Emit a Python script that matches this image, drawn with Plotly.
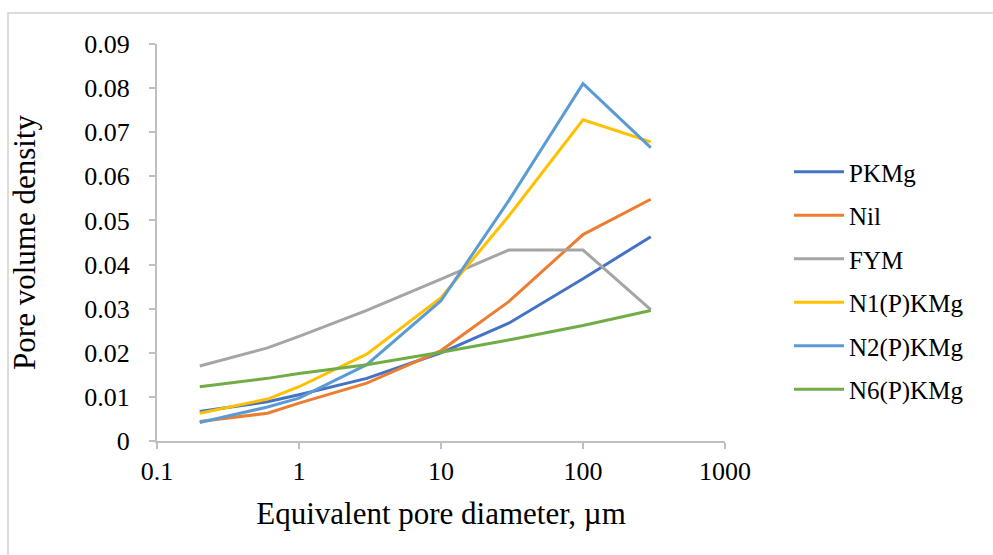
import plotly.graph_objects as go

diameter = [0.2, 0.6, 1, 3, 10, 30, 100, 300]
series_names = ["PKMg", "Nil", "FYM", "N1(P)KMg", "N2(P)KMg", "N6(P)KMg"]
pkmg = [0.0067, 0.0089, 0.0105, 0.0142, 0.0200, 0.0267, 0.0368, 0.0463]
nil = [0.0044, 0.0063, 0.0086, 0.0131, 0.0205, 0.0316, 0.0468, 0.0548]
fym = [0.0170, 0.0211, 0.0237, 0.0296, 0.0367, 0.0433, 0.0433, 0.0298]
n1 = [0.0063, 0.0095, 0.0123, 0.0197, 0.0325, 0.0510, 0.0728, 0.0678]
n2 = [0.0042, 0.0077, 0.0097, 0.0173, 0.0318, 0.0545, 0.0810, 0.0665]
n6 = [0.0123, 0.0142, 0.0153, 0.0173, 0.0201, 0.0229, 0.0262, 0.0296]
colors = ["#4472C4", "#ED7D31", "#A5A5A5", "#FFC000", "#5B9BD5", "#70AD47"]

FONT = "Liberation Serif"
fig = go.Figure()
for name, ys, c in zip(series_names, [pkmg, nil, fym, n1, n2, n6], colors):
    fig.add_trace(go.Scatter(x=diameter, y=ys, mode="lines", name=name,
                             legendgroup=name,
                             line=dict(color=c, width=3)))

L, R, T, B = 157, 268, 44, 114
W, H = 993, 555
pw, ph = W - L - R, H - T - B

fig.update_layout(
    width=W, height=H,
    margin=dict(l=L, r=R, t=T, b=B),
    paper_bgcolor="white", plot_bgcolor="white",
    font=dict(family=FONT, size=26, color="black"),
    showlegend=True,
    legend=dict(x=(789 - L) / pw, y=(441 - 149) / ph, xanchor="left", yanchor="top",
                font=dict(family=FONT, size=25), tracegroupgap=8,
                bgcolor="rgba(0,0,0,0)", itemwidth=50),
    xaxis=dict(type="log", range=[-1, 3], showgrid=False, zeroline=False,
               showline=True, linecolor="#BFBFBF", linewidth=2,
               ticks="outside", tickcolor="#BFBFBF", ticklen=6, tickwidth=2,
               ticklabelstandoff=0,
               tickvals=[0.1, 1, 10, 100, 1000],
               ticktext=["0.1", "1", "10", "100", "1000"],
               title=dict(text="Equivalent pore diameter, µm", standoff=17)),
    yaxis=dict(range=[0, 0.09], showgrid=False, zeroline=False,
               showline=True, linecolor="#BFBFBF", linewidth=2,
               ticks="outside", tickcolor="#BFBFBF", ticklen=6, tickwidth=2,
               ticklabelstandoff=14,
               tickvals=[0, 0.01, 0.02, 0.03, 0.04, 0.05, 0.06, 0.07, 0.08, 0.09],
               ticktext=["0", "0.01", "0.02", "0.03", "0.04", "0.05", "0.06", "0.07", "0.08", "0.09"],
               title=dict(text="Pore volume density", standoff=39)),
)

fig.add_shape(type="rect", xref="paper", yref="paper",
              x0=(8 - L) / pw, x1=1.6, y0=-0.6, y1=(441 - 13) / ph,
              line=dict(color="#D0D0D0", width=1.5), fillcolor="rgba(0,0,0,0)",
              layer="below")

fig.write_html("out.html")
